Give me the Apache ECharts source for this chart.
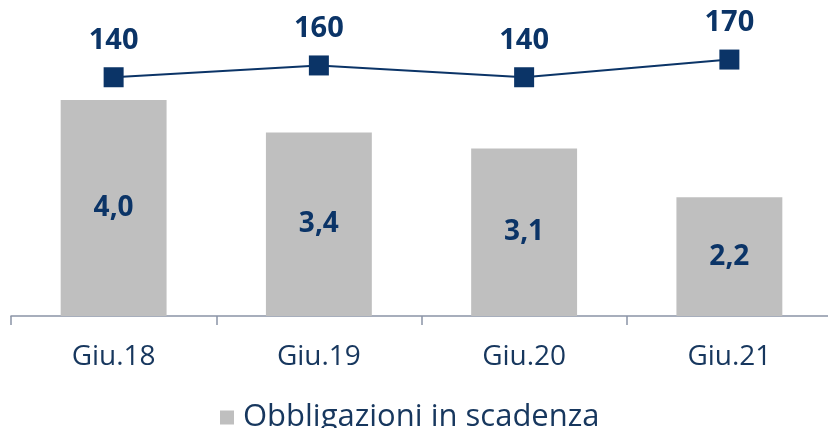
<!DOCTYPE html>
<html>
<head>
<meta charset="utf-8">
<style>
  html, body { margin: 0; padding: 0; background: #ffffff; }
  #chart { width: 828px; height: 428px; }
</style>
<script src="https://cdn.jsdelivr.net/npm/echarts@6/dist/echarts.min.js"></script>
</head>
<body>
<div id="chart"></div>
<script>
// Periods on the x axis
const categories = ['Giu.18', 'Giu.19', 'Giu.20', 'Giu.21'];
// Bonds maturing (bars)
const bondValues = [4.0, 3.4, 3.1, 2.2];
// Line values shown above the bars
const lineValues = [140, 160, 140, 170];
const legendName = 'Obbligazioni in scadenza';

const navy = '#0b3467';
const textNavy = '#17375e';
const barGray = '#bfbfbf';

const chart = echarts.init(document.getElementById('chart'), null, { renderer: 'canvas' });

chart.setOption({
  animation: false,
  backgroundColor: '#ffffff',
  grid: { left: 11, top: 46, width: 821, height: 270, containLabel: false, outerBoundsMode: 'none' },
  legend: {
    data: [legendName],
    left: 215,
    top: 397,
    itemWidth: 14,
    itemHeight: 14,
    icon: 'rect',
    textStyle: { fontFamily: 'Open Sans', fontSize: 31, color: textNavy, padding: [0, 0, 0, 4] }
  },
  xAxis: {
    type: 'category',
    data: categories,
    boundaryGap: true,
    axisLine: { show: true, lineStyle: { color: '#8a94a6', width: 1.5 } },
    axisTick: { show: true, length: 9, lineStyle: { color: '#8a94a6', width: 1.5 } },
    axisLabel: {
      margin: 27,
      fontFamily: 'Open Sans',
      fontSize: 28,
      color: textNavy
    }
  },
  yAxis: [
    { type: 'value', min: 0, max: 5, show: false, splitLine: { show: false } },
    { type: 'value', min: -265, max: 193, show: false, splitLine: { show: false } }
  ],
  series: [
    {
      name: legendName,
      type: 'bar',
      data: bondValues,
      barWidth: '51.6%',
      itemStyle: { color: barGray },
      label: {
        show: true,
        position: 'inside',
        formatter: p => p.value.toFixed(1).replace('.', ','),
        fontFamily: 'Open Sans',
        fontWeight: 'bold',
        fontSize: 28,
        color: navy
      },
      z: 2
    },
    {
      name: 'line',
      type: 'line',
      yAxisIndex: 1,
      data: lineValues,
      symbol: 'rect',
      symbolSize: 20,
      lineStyle: { color: navy, width: 2 },
      itemStyle: { color: navy },
      label: {
        show: true,
        position: 'top',
        distance: 12,
        fontFamily: 'Open Sans',
        fontWeight: 'bold',
        fontSize: 29,
        color: navy
      },
      z: 3
    }
  ]
});
</script>
</body>
</html>
